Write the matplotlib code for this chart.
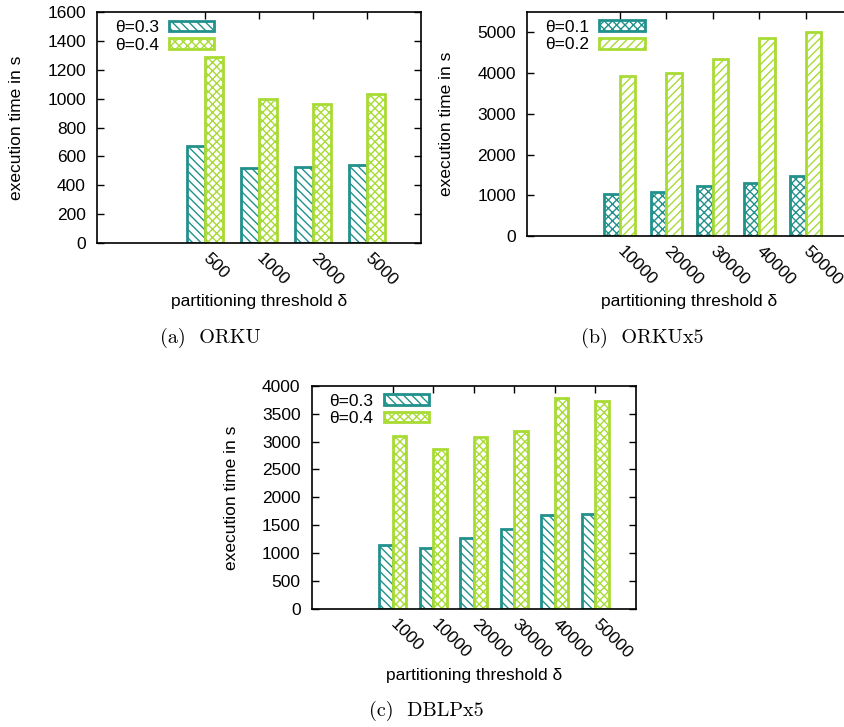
import numpy as np
import matplotlib
matplotlib.use('Agg')
import matplotlib.pyplot as plt

plt.rcParams['font.family'] = ['Liberation Sans', 'DejaVu Sans']
plt.rcParams['font.size'] = 12.5
plt.rcParams['hatch.linewidth'] = 1.0

TEAL = '#21918c'
LIME = '#a8db34'

# (a) ORKU
orku_thresholds = ['500', '1000', '2000', '5000']
orku_theta03 = [675, 520, 525, 540]
orku_theta04 = [1285, 1000, 960, 1035]

# (b) ORKUx5
orkux5_thresholds = ['10000', '20000', '30000', '40000', '50000']
orkux5_theta01 = [1020, 1090, 1235, 1300, 1470]
orkux5_theta02 = [3920, 4000, 4340, 4860, 5020]

# (c) DBLPx5
dblpx5_thresholds = ['1000', '10000', '20000', '30000', '40000', '50000']
dblpx5_theta03 = [1150, 1085, 1275, 1440, 1690, 1700]
dblpx5_theta04 = [3100, 2875, 3090, 3195, 3780, 3730]

FS = 12.5


def grouped_bars(ax, labels, s1, s2, names, hatches, ymax, yticks, xmax):
    x = np.arange(1, len(labels) + 1)
    w = 1 / 3
    ax.bar(x - w / 2, s1, w, facecolor='white', edgecolor=TEAL,
           hatch=hatches[0], linewidth=2, label=names[0], zorder=2)
    ax.bar(x + w / 2, s2, w, facecolor='white', edgecolor=LIME,
           hatch=hatches[1], linewidth=2, label=names[1], zorder=2)
    ax.set_xlim(-1, xmax)
    ax.set_ylim(0, ymax)
    ax.set_yticks(yticks)
    ax.set_xticks(x)
    ax.set_xticklabels(labels, rotation=-45, ha='left', va='center',
                       rotation_mode='anchor')
    ax.tick_params(direction='in', top=True, right=True, length=5,
                   width=1, labelsize=FS)
    ax.tick_params(axis='x', pad=9)
    ax.tick_params(axis='y', pad=8)
    for s in ax.spines.values():
        s.set_linewidth(1.2)
        s.set_zorder(3)
    ax.set_ylabel('execution time in s', fontsize=FS)
    ax.yaxis.set_label_coords(-0.225, 0.5)
    ax.set_xlabel('partitioning threshold δ', fontsize=FS)
    leg = ax.legend(loc='upper left', bbox_to_anchor=(0.055, 0.965),
                    frameon=False, markerfirst=False, borderpad=0,
                    borderaxespad=0, handlelength=2.6, handleheight=0.55,
                    handletextpad=0.6, labelspacing=0.15, fontsize=FS)
    return leg


fig = plt.figure(figsize=(8.45, 7.27), dpi=100)

ax_a = fig.add_axes([97 / 845, 1 - 243 / 727, 324 / 845, 231 / 727])
grouped_bars(ax_a, orku_thresholds, orku_theta03, orku_theta04,
             ['θ=0.3', 'θ=0.4'], ['\\\\\\\\', 'xxxx'], 1600,
             range(0, 1601, 200), 5)
ax_a.xaxis.set_label_coords(0.5, -0.222)

ax_b = fig.add_axes([527 / 845, 1 - 236 / 727, 325 / 845, 224 / 727])
grouped_bars(ax_b, orkux5_thresholds, orkux5_theta01, orkux5_theta02,
             ['θ=0.1', 'θ=0.2'], ['xxxx', '////'], 5500,
             range(0, 5001, 1000), 6)
ax_b.xaxis.set_label_coords(0.5, -0.258)

ax_c = fig.add_axes([311.7 / 845, 1 - 609 / 727, 324.3 / 845, 223.3 / 727])
grouped_bars(ax_c, dblpx5_thresholds, dblpx5_theta03, dblpx5_theta04,
             ['θ=0.3', 'θ=0.4'], ['\\\\\\\\', 'xxxx'], 4000,
             range(0, 4001, 500), 7)
ax_c.xaxis.set_label_coords(0.5, -0.265)

cap = dict(fontfamily='cmr10', fontsize=14.5, ha='center', va='center')
fig.text(210 / 845, 1 - 338 / 727, '(a)  ORKU', **cap)
fig.text(642 / 845, 1 - 338 / 727, '(b)  ORKUx5', **cap)
fig.text(426 / 845, 1 - 711 / 727, '(c)  DBLPx5', **cap)

fig.savefig('out.png', dpi=100)
